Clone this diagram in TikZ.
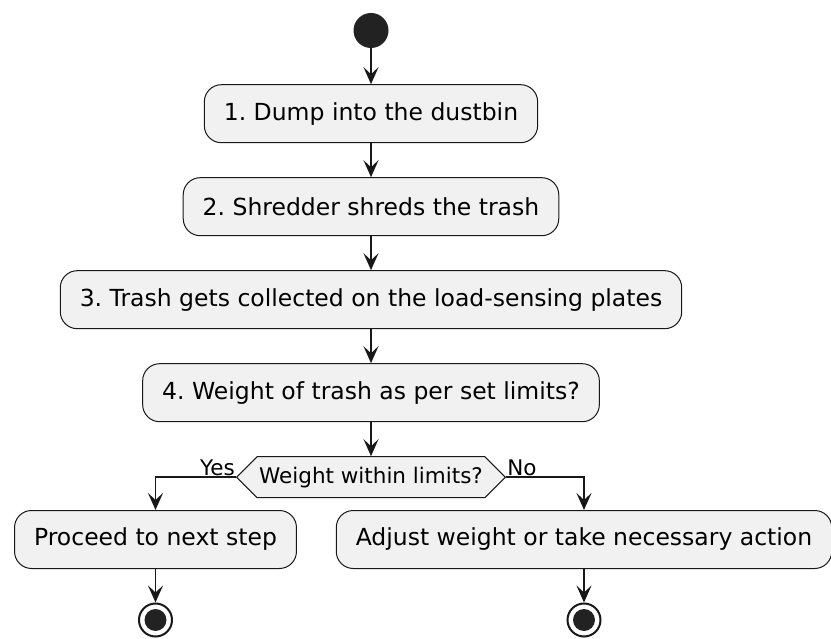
\documentclass[tikz,border=0pt]{standalone}
\usepackage{fontspec}
\setmainfont{DejaVu Sans}
\usetikzlibrary{
  arrows.meta,
  positioning,
  shapes.symbols
}
\definecolor{actfill}{HTML}{F1F1F1}
\definecolor{actline}{HTML}{181818}
\definecolor{dotfill}{HTML}{222222}
\tikzset{
  act/.style={draw=actline,line width=1pt,fill=actfill,
    rounded corners=17pt,minimum height=58pt,inner xsep=19.5pt,
    font=\fontsize{23.5}{27}\selectfont},
  decide/.style={draw=actline,line width=1pt,fill=actfill,
    shape=signal,signal to=west and east,signal pointer angle=90,
    minimum height=41pt,inner xsep=2pt,inner ysep=2pt,
    font=\fontsize{21.5}{25}\selectfont},
  startdot/.style={circle,fill=dotfill,minimum size=35pt,inner sep=0pt},
  enddot/.style={circle,draw=actline,line width=2pt,fill=white,
    minimum size=33pt,inner sep=0pt},
  flow/.style={-{Stealth[length=17pt,width=15pt,inset=7pt]},
    line width=1.9pt,draw=actline},
  brlab/.style={font=\fontsize{21.5}{25}\selectfont,inner sep=1pt}
}

\begin{document}
\frenchspacing
\begin{tikzpicture}[x=1pt,y=1pt,node distance=34pt]
  \useasboundingbox (0,0) rectangle (831,-639);
  \node[startdot] (start) at (371,-30.5) {};
  \node[act,below=36pt of start] (dump) {1. Dump into the dustbin};
  \node[act,below=of dump] (shred) {2. Shredder shreds the trash};
  \node[act,below=of shred] (collect) {3. Trash gets collected on the load-sensing plates};
  \node[act,below=of collect] (weigh) {4. Weight of trash as per set limits?};
  \node[decide,below=of weigh] (limits) {Weight within limits?};
  \node[act] (proceed) at (155.5,-539.5) {Proceed to next step};
  \node[act] (adjust) at (584,-539.5) {Adjust weight or take necessary action};
  \node[enddot] (endl) at (155.5,-620) {};
  \node[enddot] (endr) at (584,-620) {};
  \fill[dotfill] (endl) circle (11);
  \fill[dotfill] (endr) circle (11);
  \draw[flow] (start)--(dump);
  \draw[flow] (dump)--(shred);
  \draw[flow] (shred)--(collect);
  \draw[flow] (collect)--(weigh);
  \draw[flow] (weigh)--(limits);
  \draw[flow] (limits.west)-|(proceed.north);
  \draw[flow] (limits.east)-|(adjust.north);
  \node[brlab,anchor=south east] at (limits.west) {Yes};
  \node[brlab,anchor=south west] at (limits.east) {No};
  \draw[flow] (proceed)--(endl);
  \draw[flow] (adjust)--(endr);
\end{tikzpicture}
\end{document}
